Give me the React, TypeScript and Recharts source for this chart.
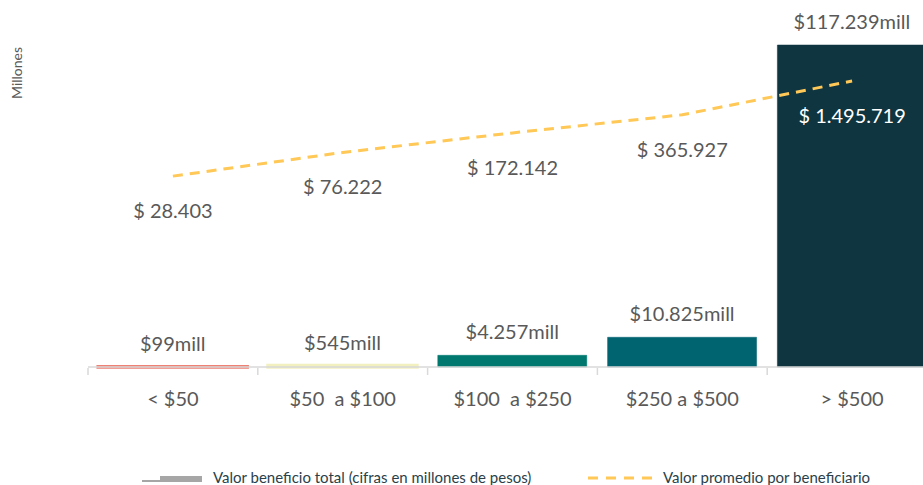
// @ts-nocheck
import React from "react";
import {
  ComposedChart,
  Bar,
  Line,
  Cell,
  XAxis,
  YAxis,
  LabelList,
} from "recharts";

const categories = ["< $50", "$50\u00A0 a $100", "$100\u00A0 a $250", "$250 a $500", "> $500"];
const barLabels = ["$99mill", "$545mill", "$4.257mill", "$10.825mill", "$117.239mill"];
const totalValues = [99, 545, 4257, 10825, 117239];
const avgValues = [28403, 76222, 172142, 365927, 1495719];
const avgLabels = ["$ 28.403", "$ 76.222", "$ 172.142", "$ 365.927", "$ 1.495.719"];
const edgeTicks = [0, 1, 2, 3, 4, 5];
const barColors = ["#F4A59D", "#F4F2C8", "#00786F", "#006370", "#0E3540"];
const barStrokes = ["#EE8074", "#F3F0C0", "#00786F", "#006370", "#0E3540"];
const barStrokeWidths = [3.5, 3.5, 0.5, 0.5, 0.5];

const data = categories.map((c, i) => ({
  cat: c,
  total: totalValues[i],
  avg: avgValues[i],
  idx: i,
}));

const FONT = "Lato, 'Liberation Sans', sans-serif";

const AvgLabel = (props) => {
  const { x, y, index } = props;
  return (
    <text
      x={x}
      y={y + 34}
      textAnchor="middle"
      dominantBaseline="central"
      fontSize={20}
      fontFamily={FONT}
      fill={index === 4 ? "#FFFFFF" : "#595959"}
    >
      {avgLabels[index]}
    </text>
  );
};

const ChartLegend = () => (
  <div
    style={{
      position: "absolute",
      left: 0,
      top: 468,
      width: 923,
      height: 20,
      fontFamily: FONT,
      fontSize: 15,
      color: "#2B3F4A",
    }}
  >
    <svg width={64} height={10} style={{ position: "absolute", left: 142, top: 6 }}>
      <line x1={0} y1={7} x2={20} y2={7} stroke="#A6A6A6" strokeWidth={2} />
      <rect x={18} y={2} width={42} height={6} fill="#A6A6A6" />
    </svg>
    <span style={{ position: "absolute", left: 213, top: 0, whiteSpace: "nowrap" }}>
      Valor beneficio total (cifras en millones de pesos)
    </span>
    <svg width={68} height={10} style={{ position: "absolute", left: 588, top: 5 }}>
      <line x1={0} y1={5} x2={66} y2={5} stroke="#FFC857" strokeWidth={3} strokeDasharray="10 8" />
    </svg>
    <span style={{ position: "absolute", left: 663, top: 0, whiteSpace: "nowrap" }}>
      Valor promedio por beneficiario
    </span>
  </div>
);

export default function App() {
  return (
    <div
      style={{
        position: "absolute",
        top: 0,
        left: 0,
        width: 923,
        height: 485,
        overflow: "hidden",
        background: "#FFFFFF",
      }}
    >
      <div
        style={{
          position: "absolute",
          left: 8,
          top: 99,
          transform: "rotate(-90deg)",
          transformOrigin: "0 0",
          fontFamily: FONT,
          fontSize: 14,
          color: "#595959",
          whiteSpace: "nowrap",
        }}
      >
        Millones
      </div>
      <ComposedChart
        width={940}
        height={485}
        data={data}
        margin={{ top: 45, right: 3, bottom: 116, left: 88 }}
        barCategoryGap="6%"
      >
        <XAxis
          xAxisId="cat"
          dataKey="cat"
          height={1}
          axisLine={{ stroke: "#D9D9D9", strokeWidth: 1.5 }}
          tickLine={false}
          tickSize={0}
          tickMargin={25}
          tick={{ fontSize: 20, fill: "#595959", fontFamily: FONT }}
          interval={0}
        />
        <XAxis
          xAxisId="edges"
          dataKey="idx"
          type="number"
          domain={[0, 5]}
          ticks={edgeTicks}
          allowDataOverflow
          axisLine={false}
          tickLine={{ stroke: "#D9D9D9", strokeWidth: 1.5 }}
          tickSize={7}
          tick={{ fill: "none", fontSize: 1 }}
          tickFormatter={() => " "}
          height={1}
        />
        <YAxis yAxisId="left" hide domain={[0, 117239]} />
        <YAxis
          yAxisId="right"
          hide
          orientation="right"
          scale="log"
          domain={[10, 6700000]}
          allowDataOverflow
        />
        <Bar xAxisId="cat" yAxisId="left" dataKey="total" isAnimationActive={false} name="Valor beneficio total (cifras en millones de pesos)">
          {data.map((d, i) => (
            <Cell key={i} fill={barColors[i]} stroke={barStrokes[i]} strokeWidth={barStrokeWidths[i]} />
          ))}
          <LabelList
            dataKey="idx"
            position="top"
            offset={16}
            formatter={(v) => barLabels[v]}
            style={{ fontSize: 20, fill: "#595959", fontFamily: FONT }}
          />
        </Bar>
        <Line
          xAxisId="cat"
          yAxisId="right"
          dataKey="avg"
          type="linear"
          stroke="#FFC857"
          strokeWidth={3}
          strokeDasharray="10 7"
          dot={false}
          isAnimationActive={false}
          name="Valor promedio por beneficiario"
        >
          <LabelList dataKey="avg" content={AvgLabel} />
        </Line>
      </ComposedChart>
      <ChartLegend />
    </div>
  );
}
